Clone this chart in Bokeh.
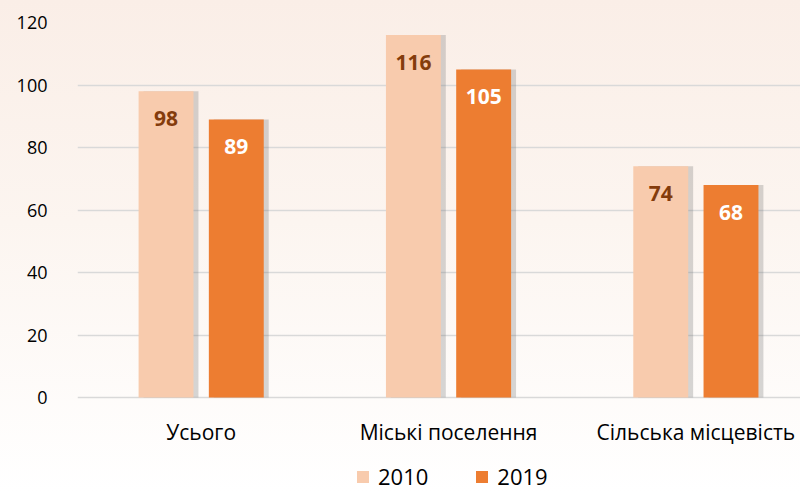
from bokeh.plotting import figure
from bokeh.models import ColumnDataSource, Range1d, FixedTicker, Legend, LegendItem
from bokeh.transform import dodge
from bokeh.core.properties import value
from bokeh.embed import file_html
from bokeh.resources import INLINE

categories = ["Усього", "Міські поселення", "Сільська місцевість"]
series_2010 = [98, 116, 74]
series_2019 = [89, 105, 68]
y_ticks = [0, 20, 40, 60, 80, 100, 120]

FONT = "Open Sans"
C2010 = "#F8CBAD"
C2019 = "#ED7D31"

idx = list(range(len(categories)))
src = ColumnDataSource(dict(
    x=idx, cat=categories, zero=[0] * len(categories),
    v2010=series_2010, v2019=series_2019,
    l2010=[str(v) for v in series_2010], l2019=[str(v) for v in series_2019],
))

# frame runs to the bottom of the figure so that the category labels and the
# legend can be drawn below the zero line without being clipped
p = figure(width=800, height=492, output_backend="svg", toolbar_location=None,
           x_range=Range1d(-0.5, 2.423), y_range=Range1d(-30.4, 120),
           min_border_left=77, min_border_right=0, min_border_top=22, min_border_bottom=0)
p.background_fill_color = None
p.border_fill_color = None
p.outline_line_color = None
p.styles = {"background": "linear-gradient(to bottom, #FAEEE7 0%, #FCF5F0 45%, #FFFFFF 100%)"}

bw = 0.222
off = 0.142
sh = 0.02

# shadows
for key, o in (("v2010", -off), ("v2019", off)):
    p.vbar(x=dodge("x", o + sh, range=p.x_range), top=key, width=bw, bottom=0,
           source=src, fill_color="#6F6F6F", fill_alpha=0.28, line_color=None)

r1 = p.vbar(x=dodge("x", -off, range=p.x_range), top="v2010", width=bw, bottom=0,
            source=src, fill_color=C2010, line_color=None)
r2 = p.vbar(x=dodge("x", off, range=p.x_range), top="v2019", width=bw, bottom=0,
            source=src, fill_color=C2019, line_color=None)

p.text(x=dodge("x", -off, range=p.x_range), y="v2010", text="l2010", source=src,
       text_align="center", text_baseline="middle", y_offset=27,
       text_font=value(FONT), text_font_style="bold", text_font_size="21px",
       text_color="#843C0C")
p.text(x=dodge("x", off, range=p.x_range), y="v2019", text="l2019", source=src,
       text_align="center", text_baseline="middle", y_offset=27,
       text_font=value(FONT), text_font_style="bold", text_font_size="21px",
       text_color="#FFFFFF")

# category labels under the zero line
p.text(x="x", y="zero", text="cat", source=src,
       text_align="center", text_baseline="middle", y_offset=34,
       text_font=value(FONT), text_font_size="21px", text_color="#000000")

p.xgrid.grid_line_color = None
p.ygrid.grid_line_color = "#D9D9D9"
p.ygrid.grid_line_width = 1.5
p.ygrid.ticker = FixedTicker(ticks=y_ticks)

p.yaxis.ticker = FixedTicker(ticks=y_ticks)
p.yaxis.axis_line_color = None
p.yaxis.major_tick_line_color = None
p.yaxis.minor_tick_line_color = None
p.yaxis.major_label_text_font = FONT
p.yaxis.major_label_text_font_size = "18px"
p.yaxis.major_label_text_color = "#000000"
p.yaxis.major_label_standoff = 24

p.xaxis.visible = False

legend = Legend(items=[LegendItem(label="2010", renderers=[r1]),
                       LegendItem(label="2019", renderers=[r2])],
                orientation="horizontal", location=(278, 1),
                label_text_font=FONT, label_text_font_size="22px",
                label_text_color="#000000",
                glyph_width=15, glyph_height=15, spacing=46, label_standoff=8,
                background_fill_alpha=0, border_line_color=None, margin=0, padding=2)
p.add_layout(legend)

open("out.html", "w").write(file_html(p, INLINE))
